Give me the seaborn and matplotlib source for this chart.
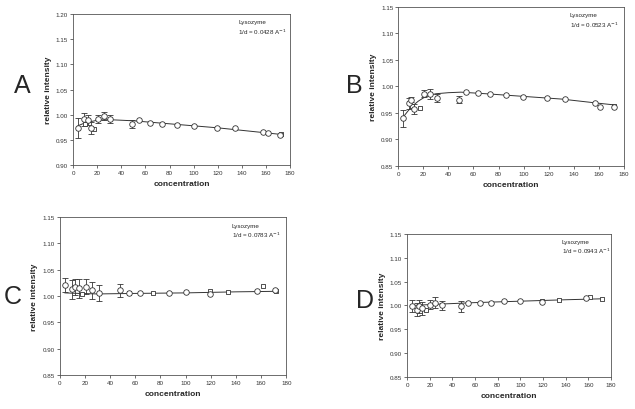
import numpy as np
import pandas as pd
import matplotlib
matplotlib.use("Agg")
import matplotlib.pyplot as plt
import seaborn as sns

# ---- panel A (1/d = 0.0428) ----
A_x = [4, 9.5, 12, 14.5, 21, 26, 31, 48.5, 55, 64, 74, 86, 100.5, 119, 134, 157.5, 161.5, 171.5]
A_y = [0.974, 0.991, 0.990, 0.974, 0.992, 0.997, 0.991, 0.981, 0.989, 0.984, 0.982, 0.980, 0.978, 0.974, 0.973, 0.965, 0.964, 0.960]
A_err = [0.020, 0.013, 0.010, 0.012, 0.008, 0.008, 0.008, 0.008, 0, 0, 0, 0, 0, 0, 0, 0, 0, 0]
A_sq_x = [10, 17.5, 172]
A_sq_y = [0.982, 0.972, 0.961]
A_fit_x = [4, 8, 14, 20, 26, 32, 50, 80, 120, 160, 172]
A_fit_y = [0.978, 0.982, 0.986, 0.989, 0.990, 0.990, 0.988, 0.982, 0.974, 0.964, 0.961]

# ---- panel B (1/d = 0.0523) ----
B_x = [4, 9, 10.5, 13, 20.5, 25, 31, 48.5, 54, 63.5, 73, 86, 99.5, 118.5, 132.5, 157, 161, 171.5]
B_y = [0.940, 0.968, 0.975, 0.957, 0.986, 0.986, 0.978, 0.975, 0.990, 0.987, 0.985, 0.983, 0.980, 0.978, 0.976, 0.968, 0.961, 0.961]
B_err = [0.016, 0.010, 0.004, 0.010, 0.007, 0.009, 0.007, 0.007, 0, 0, 0, 0, 0, 0, 0, 0, 0, 0]
B_sq_x = [11, 17.5, 172]
B_sq_y = [0.963, 0.959, 0.963]
B_fit_x = [4, 8, 12, 16, 20, 25, 30, 40, 50, 70, 100, 130, 160, 172]
B_fit_y = [0.942, 0.954, 0.964, 0.972, 0.978, 0.983, 0.986, 0.988, 0.989, 0.986, 0.981, 0.976, 0.968, 0.965]

# ---- panel C (1/d = 0.0783) ----
C_x = [4.5, 9.5, 12, 15, 21, 26, 31, 48, 55, 64, 86.5, 100, 119, 157, 171]
C_y = [1.021, 1.013, 1.017, 1.015, 1.018, 1.011, 1.006, 1.011, 1.006, 1.006, 1.006, 1.008, 1.004, 1.009, 1.011]
C_err = [0.013, 0.018, 0.015, 0.018, 0.014, 0.016, 0.015, 0.012, 0, 0, 0, 0, 0, 0, 0]
C_sq_x = [18, 55, 74, 119, 133.5, 161.5, 172]
C_sq_y = [1.004, 1.006, 1.005, 1.009, 1.008, 1.020, 1.009]
C_fit_x = [4, 15, 30, 60, 100, 140, 172]
C_fit_y = [1.006, 1.005, 1.004, 1.005, 1.006, 1.008, 1.009]

# ---- panel D (1/d = 0.0943) ----
D_x = [4.5, 8.5, 11, 13, 20, 25, 31, 48, 54, 64, 74, 86, 100, 119, 158]
D_y = [0.999, 0.991, 0.998, 0.994, 1.002, 1.006, 1.000, 0.998, 1.006, 1.006, 1.005, 1.009, 1.009, 1.008, 1.015]
D_err = [0.012, 0.014, 0.014, 0.014, 0.010, 0.012, 0.010, 0.012, 0, 0, 0, 0, 0, 0, 0]
D_sq_x = [17, 119, 134, 162, 172]
D_sq_y = [0.990, 1.010, 1.012, 1.017, 1.014]
D_fit_x = [4, 30, 60, 100, 140, 172]
D_fit_y = [1.000, 1.003, 1.006, 1.009, 1.012, 1.014]

panels = [
    ("A", "0.0428", A_x, A_y, A_err, A_sq_x, A_sq_y, A_fit_x, A_fit_y, (0.90, 1.20)),
    ("B", "0.0523", B_x, B_y, B_err, B_sq_x, B_sq_y, B_fit_x, B_fit_y, (0.85, 1.15)),
    ("C", "0.0783", C_x, C_y, C_err, C_sq_x, C_sq_y, C_fit_x, C_fit_y, (0.85, 1.15)),
    ("D", "0.0943", D_x, D_y, D_err, D_sq_x, D_sq_y, D_fit_x, D_fit_y, (0.85, 1.15)),
]

# axes boxes [left, bottom, width, height] and big-letter positions
boxes = {"A": [0.115, 0.595, 0.342, 0.368],
         "B": [0.627, 0.593, 0.356, 0.388],
         "C": [0.094, 0.083, 0.357, 0.385],
         "D": [0.641, 0.078, 0.321, 0.349]}
letter_pos = {"A": (0.022, 0.79), "B": (0.545, 0.79), "C": (0.006, 0.275), "D": (0.56, 0.265)}

sns.set_theme(style="ticks")
plt.rcParams["font.family"] = ["Liberation Sans", "DejaVu Sans"]

fig = plt.figure(figsize=(6.35, 4.1), dpi=100)

for name, invd, x, y, err, sqx, sqy, fx, fy, ylim in panels:
    ax = fig.add_axes(boxes[name])
    fit = pd.DataFrame({"x": fx, "y": fy})
    sns.lineplot(data=fit, x="x", y="y", ax=ax, color="#333333", lw=0.7)
    df = pd.DataFrame({"x": x, "y": y, "err": err})
    eb = df[df["err"] > 0]
    ax.errorbar(eb["x"], eb["y"], yerr=eb["err"], fmt="none", ecolor="#333333",
                elinewidth=0.6, capsize=2, capthick=0.6, zorder=2)
    sq = pd.DataFrame({"x": sqx, "y": sqy})
    sns.scatterplot(data=sq, x="x", y="y", ax=ax, marker="s", s=12,
                    facecolor="white", edgecolor="#333333", linewidth=0.6, zorder=3)
    sns.scatterplot(data=df, x="x", y="y", ax=ax, marker="o", s=16,
                    facecolor="white", edgecolor="#333333", linewidth=0.6, zorder=4)
    ax.set_xlim(0, 180)
    ax.set_ylim(*ylim)
    ax.set_xticks(np.arange(0, 181, 20))
    ax.set_yticks(np.arange(ylim[0], ylim[1] + 0.001, 0.05))
    ax.yaxis.set_major_formatter(matplotlib.ticker.FormatStrFormatter("%.2f"))
    ax.tick_params(labelsize=4.5, length=2, width=0.5, pad=1.5, colors="#333333")
    for s in ax.spines.values():
        s.set_linewidth(0.6)
        s.set_color("#555555")
    ax.set_xlabel("concentration", fontsize=6, fontweight="bold", labelpad=4)
    ax.set_ylabel("relative intensity", fontsize=6, fontweight="bold", labelpad=3)
    ax.text(0.76, 0.965, "Lysozyme\n1/d = " + invd + " A$^{-1}$", transform=ax.transAxes,
            fontsize=4.5, va="top", ha="left", linespacing=1.3)
    fig.text(*letter_pos[name], name, fontsize=18, ha="left", va="center")

fig.savefig("out.png", dpi=100)
